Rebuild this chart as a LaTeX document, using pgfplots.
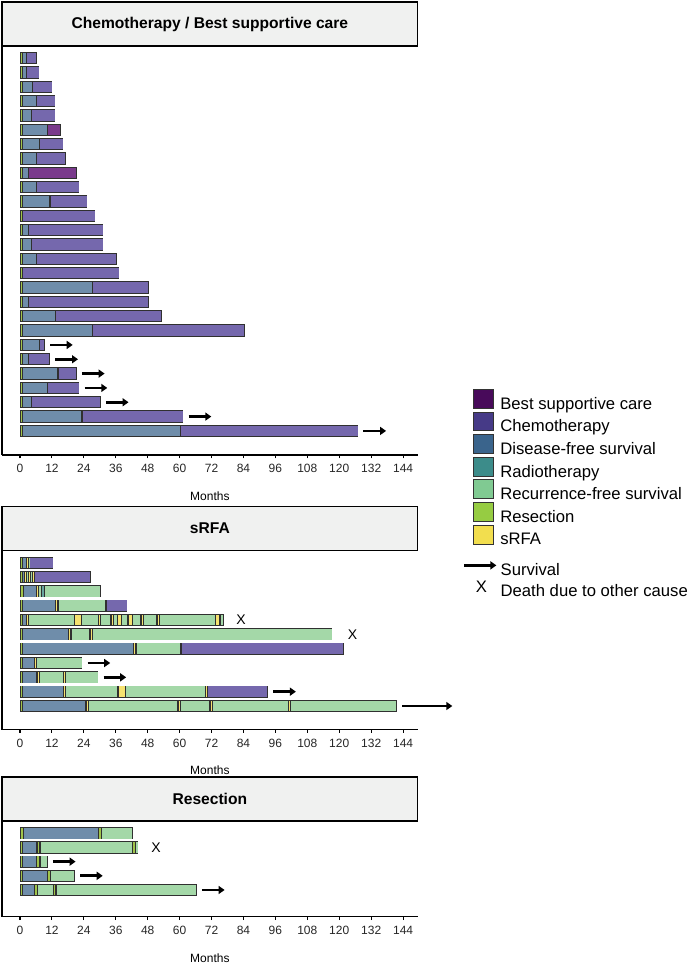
\documentclass[border=0pt]{standalone}
\usepackage{fontspec}
\setmainfont{Liberation Sans}
\usepackage{pgfplots}
\pgfplotsset{compat=1.18}
\usetikzlibrary{arrows.meta}

% plot fills (semi-transparent viridis as rendered)
\definecolor{cChemo}{RGB}{117,104,173}
\definecolor{cBSC}{RGB}{122,58,140}
\definecolor{cDFS}{RGB}{111,141,170}
\definecolor{cRad}{RGB}{104,165,160}
\definecolor{cRFS}{RGB}{164,216,168}
\definecolor{cRes}{RGB}{160,196,74}
\definecolor{cSRFA}{RGB}{246,226,112}
% legend fills
\definecolor{lBSC}{RGB}{72,10,90}
\definecolor{lChemo}{RGB}{70,58,135}
\definecolor{lDFS}{RGB}{58,100,140}
\definecolor{lRad}{RGB}{60,140,138}
\definecolor{lRFS}{RGB}{128,202,146}
\definecolor{lRes}{RGB}{150,204,66}
\definecolor{lSRFA}{RGB}{242,222,78}
\definecolor{outl}{RGB}{48,48,48}
\definecolor{stripfill}{RGB}{240,241,240}

\pgfplotsset{
  panel/.style={scale only axis, width=311.8pt, xmin=-6.77, xmax=149.5,
    axis x line*=bottom, axis y line*=left, ytick=\empty,
    xtick={0,12,...,144}, axis line style={-, line width=0.8pt, black},
    xtick style={black, line width=0.8pt}, tick align=outside, major tick length=2.5pt,
    xticklabel style={font=\fontsize{9}{10}\selectfont, text=black!85, yshift=-1pt},
    /pgf/number format/assume math mode=true,
    clip=false, xlabel={Months},
    xlabel style={at={(axis description cs:0.5,0)}, anchor=center, yshift=-30.75pt, font=\fontsize{9}{11}\selectfont}},
  outline/.style={forget plot, mark=none, draw=outl, line width=9.2pt, quiver={u=\thisrow{e}, v=0}},
  seg/.style={forget plot, mark=none, draw=#1, line width=7.8pt, shorten <=0.45pt, shorten >=0.45pt,
    quiver={u=\thisrow{e}-\thisrow{s}, v=0}},
  arr/.style={forget plot, mark=none, draw=black, line width=2pt, -{Triangle[length=4.5pt,width=6pt]},
    quiver={u=\thisrow{e}-\thisrow{s}, v=0}},
  xmark/.style={forget plot, only marks, mark=none, point meta=explicit symbolic, nodes near coords,
    every node near coord/.append style={font=\fontsize{10.5}{12}\selectfont, inner sep=0pt, anchor=center}},
  sqleg/.style={legend image code/.code={\draw[fill=#1, draw=black!80, line width=0.75pt] (0pt,-2.6pt) rectangle (14.5pt,11.6pt);}},
}

\begin{document}
\begin{tikzpicture}
\useasboundingbox (0,0) rectangle (516pt,-722.25pt);

%================ Panel 1 =================
\begin{axis}[panel, at={(1.5pt,-341.25pt)}, anchor=south west, height=306.75pt,
  ymin=-28.68, ymax=-0.142,
  legend cell align=left,
  legend style={at={(1.1337,0.1616)}, anchor=north west, draw=none, fill=none,
    inner sep=0pt, outer sep=0pt, row sep=-0.8pt, column sep=5pt,
    font=\fontsize{12.5}{15}\selectfont, nodes={inner sep=0pt, text height=9pt, text depth=2.6pt}}]
\addlegendimage{sqleg=lBSC}\addlegendentry{Best supportive care}
\addlegendimage{sqleg=lChemo}\addlegendentry{Chemotherapy}
\addlegendimage{sqleg=lDFS}\addlegendentry{Disease{-}free survival}
\addlegendimage{sqleg=lRad}\addlegendentry{Radiotherapy}
\addlegendimage{sqleg=lRFS}\addlegendentry{Recurrence{-}free survival}
\addlegendimage{sqleg=lRes}\addlegendentry{Resection}
\addlegendimage{sqleg=lSRFA}\addlegendentry{sRFA}

\addplot[outline] table[x expr=0, y=r]{
r e
-1 6.3
-2 7.3
-3 12.1
-4 13.3
-5 13.3
-6 15.3
-7 16.3
-8 17.3
-9 21.3
-10 22.3
-11 25.3
-12 28.3
-13 31.3
-14 31.3
-15 36.3
-16 37.3
-17 48.4
-18 48.4
-19 53.4
-20 84.5
-21 9.3
-22 11.3
-23 21.3
-24 22.3
-25 30.3
-26 61.4
-27 127.1
};
\addplot[seg=cRes] table[x=s, y=r]{
r s e
-1 0 1
-2 0 1
-3 0 1
-4 0 1
-5 0 1
-6 0 1
-7 0 1
-8 0 1
-9 0 1
-10 0 1
-11 0 1
-12 0 1
-13 0 1
-14 0 1
-15 0 1
-16 0 1
-17 0 1
-18 0 1
-19 0 1
-20 0 1
-21 0 1
-22 0 1
-23 0 1
-24 0 1
-25 0 1
-26 0 1
-27 0 1
};
\addplot[seg=cDFS] table[x=s, y=r]{
r s e
-1 1 2.5
-2 1 2.5
-3 1 4.8
-4 1 6.3
-5 1 4.3
-6 1 10.3
-7 1 7.3
-8 1 6.3
-9 1 3.3
-10 1 6.3
-11 1 11.3
-13 1 3.3
-14 1 4.3
-15 1 6.3
-17 1 27.3
-18 1 3.3
-19 1 13.3
-20 1 27.3
-21 1 7.3
-22 1 3.3
-23 1 14.3
-24 1 10.3
-25 1 4.3
-26 1 23.3
-27 1 60.2
};
\addplot[seg=cChemo] table[x=s, y=r]{
r s e
-1 2.5 6.3
-2 2.5 7.3
-3 4.8 12.1
-4 6.3 13.3
-5 4.3 13.3
-7 7.3 16.3
-8 6.3 17.3
-10 6.3 22.3
-11 11.3 25.3
-12 1 28.3
-13 3.3 31.3
-14 4.3 31.3
-15 6.3 36.3
-16 1 37.3
-17 27.3 48.4
-18 3.3 48.4
-19 13.3 53.4
-20 27.3 84.5
-21 7.3 9.3
-22 3.3 11.3
-23 14.3 21.3
-24 10.3 22.3
-25 4.3 30.3
-26 23.3 61.4
-27 60.2 127.1
};
\addplot[seg=cBSC] table[x=s, y=r]{
r s e
-6 10.3 15.3
-9 3.3 21.3
};
\addplot[arr] table[x=s, y=r]{
r s e
-21 11.3 19.8
-22 13.3 21.8
-23 23.3 31.8
-24 24.3 32.8
-25 32.3 40.8
-26 63.4 71.9
-27 129.1 137.6
};
\end{axis}

%================ Panel 2 =================
\begin{axis}[panel, at={(1.5pt,-547.125pt)}, anchor=south west, height=134.1pt,
  ymin=-12.64, ymax=-0.163,
  legend cell align=left,
  legend style={at={(1.109,0.9709)}, anchor=north west, draw=none, fill=none,
    inner sep=0pt, outer sep=0pt, row sep=-1.6pt, column sep=2.2pt,
    font=\fontsize{12.5}{15}\selectfont, nodes={inner sep=0pt, text height=9pt, text depth=2.6pt}}]
\addlegendimage{legend image code/.code={\path[draw=none, fill=none] (0pt,-2.6pt) rectangle (24pt,11.6pt);
  \draw[-{Triangle[length=4.5pt,width=6pt]}, line width=2pt, black] (0pt,4.5pt) -- (24pt,4.5pt);}}
\addlegendentry{Survival}
\addlegendimage{legend image code/.code={\path[draw=none, fill=none] (0pt,-2.6pt) rectangle (24pt,11.6pt);
  \node[draw=none, fill=none, inner sep=0pt, anchor=base, text=black, font=\fontsize{12.5}{15}\selectfont] at (12.75pt,0pt) {X};}}
\addlegendentry{Death due to other cause}

\addplot[outline] table[x expr=0, y=r]{
r e
-1 12.5
-2 26.5
-3 30.4
-4 40.4
-5 76.5
-6 117.4
-7 121.6
-8 23.4
-9 29.4
-10 93.2
-11 141.7
};
\addplot[seg=cRes] table[x=s, y=r]{
r s e
-1 0 1
-2 0 0.8
-3 0 1.2
-4 0 1
-5 0 1
-6 0 1
-7 0 1
-8 0 1
-9 0 1
-10 0 1
-11 0 1
};
\addplot[seg=cDFS] table[x=s, y=r]{
r s e
-1 1 2.3
-2 0.8 1.6
-3 1.2 6.2
-4 1 13.4
-5 1 2.3
-6 1 18.3
-7 1 42.6
-8 1 5.4
-9 1 6.4
-10 1 16.2
-11 1 24.8
};
\addplot[seg=cSRFA] table[x=s, y=r]{
r s e
-1 2.3 3.1
-2 1.6 2.3
-2 3.3 4.0
-2 4.8 5.5
-3 6.2 7.0
-4 13.4 14.3
-5 2.3 3.3
-5 20.5 23.2
-5 29.6 30.4
-5 34.2 35.0
-5 36.5 38.2
-5 40.6 42.3
-5 45.5 46.4
-5 51.5 52.4
-5 73.4 75.2
-6 18.3 19.2
-6 26.3 27.3
-7 42.6 43.6
-8 5.4 6.3
-9 6.4 7.4
-9 16.4 17.2
-10 16.2 17.0
-10 36.8 39.6
-10 69.6 70.4
-11 24.8 25.7
-11 59.4 60.3
-11 71.4 72.3
-11 100.8 101.7
};
\addplot[seg=cRFS] table[x=s, y=r]{
r s e
-1 3.1 3.6
-2 2.3 3.3
-2 4.0 4.8
-3 7.0 8.2
-3 9.2 30.4
-4 14.3 32.3
-5 3.3 20.5
-5 23.2 29.6
-5 30.4 34.2
-5 35.0 36.5
-5 38.2 40.6
-5 42.3 45.5
-5 46.4 51.5
-5 52.4 73.4
-5 75.2 76.5
-6 19.2 26.3
-6 27.3 117.4
-7 43.6 60.5
-8 6.3 23.4
-9 7.4 16.4
-9 17.2 29.4
-10 17.0 36.8
-10 39.6 69.6
-11 25.7 59.4
-11 60.3 71.4
-11 72.3 100.8
-11 101.7 141.7
};
\addplot[seg=cRad] table[x=s, y=r]{
r s e
-3 8.2 9.2
};
\addplot[seg=cChemo] table[x=s, y=r]{
r s e
-1 3.6 12.5
-2 5.5 26.5
-4 32.3 40.4
-7 60.5 121.6
-10 70.4 93.2
};
\addplot[arr] table[x=s, y=r]{
r s e
-8 25.4 33.9
-9 31.4 39.9
-10 95.2 103.7
-11 143.7 162.5
};
\addplot[xmark] coordinates {(83.1,-5) [X] (125,-6) [X]};
\end{axis}

%================ Panel 3 =================
\begin{axis}[panel, at={(1.5pt,-687.525pt)}, anchor=south west, height=71.775pt,
  ymin=-6.886, ymax=-0.132]
\addplot[outline] table[x expr=0, y=r]{
r e
-1 42.4
-2 44.5
-3 10.4
-4 20.6
-5 66.4
};
\addplot[seg=cRes] table[x=s, y=r]{
r s e
-1 0 1.3
-1 29.5 30.5
-2 0 1
-2 6.4 7.5
-2 42.4 43.3
-3 0 1
-3 6.3 7.5
-4 0 1
-4 10.4 11.5
-5 0 1
-5 5.4 6.5
-5 12.5 13.5
};
\addplot[seg=cDFS] table[x=s, y=r]{
r s e
-1 1.3 29.5
-2 1 6.4
-3 1 6.3
-4 1 10.4
-5 1 5.4
};
\addplot[seg=cRFS] table[x=s, y=r]{
r s e
-1 30.5 42.4
-2 7.5 42.4
-2 43.3 44.5
-3 7.5 10.4
-4 11.5 20.6
-5 6.5 12.5
-5 13.5 66.4
};
\addplot[arr] table[x=s, y=r]{
r s e
-3 12.4 20.9
-4 22.6 31.1
-5 68.4 76.9
};
\addplot[xmark] coordinates {(51.1,-2) [X]};
\end{axis}

%================ Strips =================
\draw[fill=stripfill, line width=0.9pt] (1.5pt,-1.5pt) rectangle (313.3pt,-34.5pt);
\node[font=\fontsize{11.7}{14}\selectfont\bfseries] at (157.4pt,-18pt) {Chemotherapy / Best supportive care};
\draw[fill=stripfill, line width=0.9pt] (1.5pt,-380pt) rectangle (313.3pt,-413pt);
\node[font=\fontsize{11.7}{14}\selectfont\bfseries] at (157.4pt,-396.5pt) {sRFA};
\draw[fill=stripfill, line width=0.9pt] (1.5pt,-582.75pt) rectangle (313.3pt,-615.75pt);
\node[font=\fontsize{11.7}{14}\selectfont\bfseries] at (157.4pt,-599.25pt) {Resection};
\end{tikzpicture}
\end{document}
